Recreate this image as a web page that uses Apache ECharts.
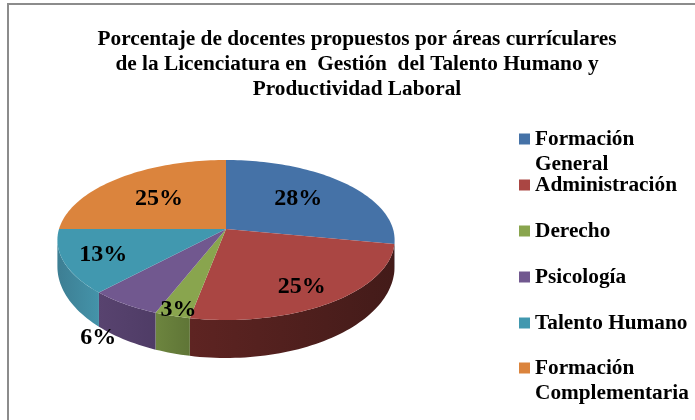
<!DOCTYPE html>
<html>
<head>
<meta charset="utf-8">
<title>Porcentaje de docentes</title>
<script src="https://cdn.jsdelivr.net/npm/echarts@6/dist/echarts.min.js"></script>
<style>
html,body{margin:0;padding:0;background:#fff}
#chart{width:695px;height:420px}
</style>
</head>
<body>
<div id="chart"></div>
<script>
var categories = ['Formación General','Administración','Derecho','Psicología','Talento Humano','Formación Complementaria']
var values = [28,25,3,6,13,25]
var topColors = ['#4572a7','#aa4643','#89a54e','#71588f','#4198af','#db843d']
// side wall gradient, left colour then right colour
var sideColors = [['#2f4f75','#2f4f75'],['#5e2422','#431b19'],['#6d853f','#5f7536'],['#58436f','#4f3c66'],['#3d7e93','#4493a9'],['#a5642e','#a5642e']]
// label placement: fraction of the radius along the mid angle, then a nudge in px
var labelPlace = [[0.59,0,-2],[0.74,0,5],[0.9,0,4],[1.2,-3,16],[0.75,-3,1],[0.6,0,1]]
var legendCentres = [139,185,231,277,323,368]
var title = 'Porcentaje de docentes propuestos por áreas currículares\nde la Licenciatura en  Gestión  del Talento Humano y\nProductividad Laboral'

var serif = '"Liberation Serif","Times New Roman",serif'
var total = values.reduce(function(a,b){return a+b},0)

// pie plane seen in perspective
var cx = 226, cy = 229, a = 167, b = 78.5, k = 0.1375
var depth = 25, bBottom = 89.7

function rimPoint(deg,r,bottom){
	var t = deg*Math.PI/180
	var u = Math.sin(t)*r, v = -Math.cos(t)*r
	var w = 1-k*v
	if(bottom) return [cx+a*u/w, cy+depth+bBottom*v/w]
	return [cx+a*u/w, cy+b*v/w]
}

function arcPoints(from,to,bottom){
	var pts = []
	var n = Math.max(2,Math.ceil(Math.abs(to-from)/1.5))
	for(var i=0;i<=n;i++){
		pts.push(rimPoint(from+(to-from)*i/n,1,bottom))
	}
	return pts
}

function startAngle(idx){
	var s = 0
	for(var i=0;i<idx;i++) s += values[i]
	return s/total*360
}

function renderSlice(idx){
	return function(params,api){
		var from = startAngle(idx)
		var to = from+api.value(0)/total*360
		var children = []
		// front wall only, between the two silhouette angles
		var f = Math.max(from,98), e = Math.min(to,262)
		if(e>f){
			var wall = arcPoints(f,e,false).concat(arcPoints(f,e,true).reverse())
			var x1 = rimPoint(e,1,false)[0], x2 = rimPoint(f,1,false)[0]
			children.push({
				type:'polygon',
				shape:{points:wall},
				z2:1,
				style:{fill:new echarts.graphic.LinearGradient(x1,0,x2,0,[
					{offset:0,color:sideColors[idx][0]},
					{offset:1,color:sideColors[idx][1]}
				],true)}
			})
		}
		children.push({
			type:'polygon',
			shape:{points:[[cx,cy]].concat(arcPoints(from,to,false))},
			z2:2,
			style:{fill:topColors[idx]}
		})
		var lp = labelPlace[idx]
		var p = rimPoint((from+to)/2,lp[0],false)
		children.push({
			type:'text',
			z2:10,
			style:{
				text:Math.round(api.value(0)/total*100)+'%',
				x:p[0]+lp[1],
				y:p[1]+lp[2],
				align:'center',
				verticalAlign:'middle',
				fill:'#000',
				font:'bold 24px '+serif
			}
		})
		return {type:'group',children:children}
	}
}

var series = categories.map(function(name,i){
	return {
		type:'custom',
		name:name,
		coordinateSystem:'none',
		silent:true,
		animation:false,
		itemStyle:{color:topColors[i]},
		renderItem:renderSlice(i),
		data:[[values[i]]]
	}
})

var legends = categories.map(function(name,i){
	var twoLines = name.indexOf('Formación ')===0
	return {
		data:[name],
		orient:'vertical',
		left:519,
		top:legendCentres[i]-(twoLines?37.5:12.5),
		padding:0,
		itemWidth:11,
		itemHeight:11,
		icon:'rect',
		selectedMode:false,
		// blank first line keeps the marker level with the first word
		formatter:function(n){
			return twoLines ? '\u00a0\n'+n.replace(' ','\n') : n
		},
		textStyle:{fontFamily:serif,fontWeight:'bold',fontSize:21.3,lineHeight:25,color:'#000'}
	}
})

var chart = echarts.init(document.getElementById('chart'))
chart.setOption({
	animation:false,
	backgroundColor:'#fff',
	title:{
		text:title,
		left:357,
		top:27,
		padding:0,
		textAlign:'center',
		textStyle:{fontFamily:serif,fontWeight:'bold',fontSize:21.3,lineHeight:25,color:'#000'}
	},
	legend:legends,
	graphic:[{
		type:'rect',
		silent:true,
		shape:{x:8,y:4,width:700,height:430},
		style:{fill:'none',stroke:'#8c8c8c',lineWidth:2}
	}],
	series:series
})
</script>
</body>
</html>
